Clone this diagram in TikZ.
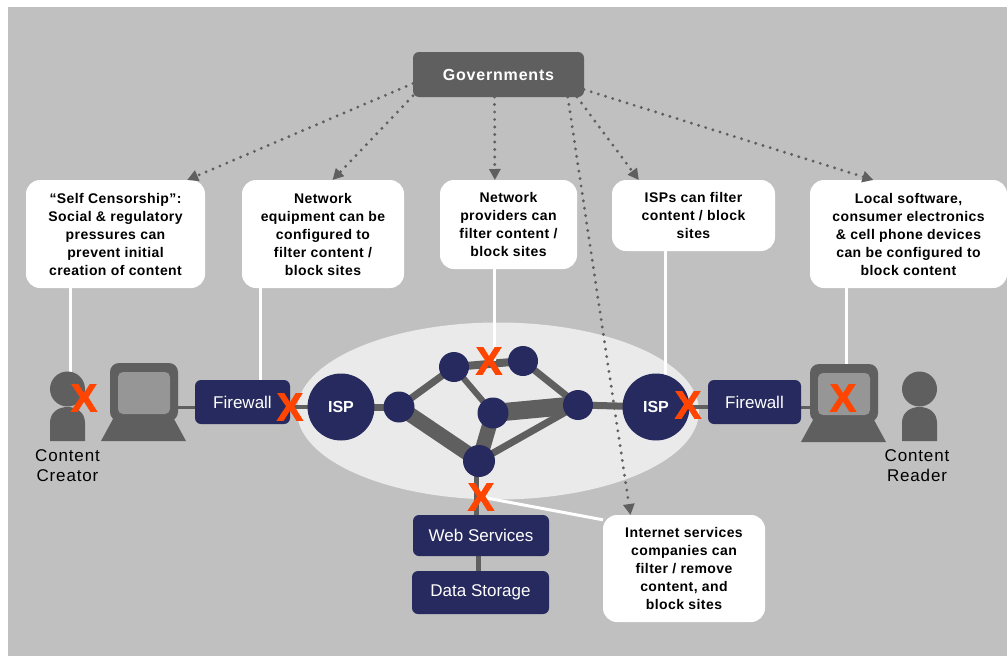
\documentclass[tikz,border=0pt]{standalone}
\usepackage{fontspec}
\setmainfont{Liberation Sans}
\usetikzlibrary{arrows.meta,backgrounds,shapes.geometric}
\definecolor{panel}{HTML}{C0C0C0}
\definecolor{cloudgray}{HTML}{EAEAEA}
\definecolor{navy}{HTML}{272A5E}
\definecolor{darkgray}{HTML}{5F5F5F}
\definecolor{screengray}{HTML}{969696}
\definecolor{crossred}{HTML}{FF4500}
\tikzset{
	govbox/.style={fill=darkgray,rounded corners=6pt,minimum width=171pt,minimum height=45pt,inner sep=0pt,outer sep=0pt,text=white,font=\fontsize{16}{18}\selectfont\bfseries\addfontfeature{LetterSpace=5}},
	callout/.style={fill=white,rounded corners=14pt,inner sep=0pt,outer sep=0pt,align=center,font=\fontsize{14}{18}\selectfont\bfseries\addfontfeature{LetterSpace=3}},
	navybox/.style={fill=navy,rounded corners=6pt,inner sep=0pt,outer sep=0pt,text=white,font=\fontsize{17}{18}\selectfont},
	router/.style={circle,fill=navy,inner sep=0pt,outer sep=0pt,minimum size=#1},
	ispnode/.style={circle,fill=navy,minimum size=67pt,inner sep=0pt,outer sep=0pt,text=white,font=\fontsize{16}{18}\selectfont\bfseries},
	crossmark/.style={inner sep=0pt,text=crossred,font=\fontsize{39}{39}\selectfont\bfseries\addfontfeature{FakeBold=2.5}},
	caption/.style={align=center,inner sep=0pt,font=\fontsize{17}{20}\selectfont\addfontfeature{LetterSpace=5}},
	link/.style={draw=darkgray,line width=#1,shorten >=-4pt,shorten <=-4pt},
	leader/.style={draw=white,line width=3pt},
	reach/.style={draw=darkgray,line width=3.2pt,line cap=round,dash pattern=on 0pt off 7.5pt,-{Triangle[length=11pt,width=11pt]}},
	person/.pic={
		\node[circle,fill=darkgray,minimum size=35pt,inner sep=0pt] (-head) at (0,-18) {};
		\fill[darkgray] (-17.5,34) -- (-17.5,16) .. controls (-17.5,5) and (-9,0) .. (0,0) .. controls (9,0) and (17.5,5) .. (17.5,16) -- (17.5,34) -- cycle;
	},
	computer/.pic={
		\fill[darkgray] (-31,27) -- (-43,49) -- (42,49) -- (30,27) -- cycle;
		\node[fill=darkgray,rounded corners=9pt,minimum width=68pt,minimum height=58pt,inner sep=0pt,outer sep=0pt] (-mon) at (0,0) {};
		\node[fill=screengray,rounded corners=5pt,minimum width=52pt,minimum height=42pt,inner sep=0pt] (-scr) at (0,1) {};
	},
}
\begin{document}
\begin{tikzpicture}[x=1pt,y=-1pt]
\useasboundingbox (0,0) rectangle (1007,656);
\node[govbox] (gov) at (498.5,74.5) {Governments};
\node[callout,minimum width=179pt,minimum height=108pt] (boxa) at (115.5,234) {“Self Censorship”:\\Social \& regulatory\\pressures can\\prevent initial\\creation of content};
\node[callout,minimum width=162pt,minimum height=108pt] (boxb) at (323,234) {Network\\equipment can be\\configured to\\filter content /\\block sites};
\node[callout,minimum width=137pt,minimum height=89pt] (boxc) at (508.5,224.5) {Network\\providers can\\filter content /\\block sites};
\node[callout,minimum width=163pt,minimum height=71pt] (boxd) at (693.5,215.5) {ISPs can filter\\content / block\\sites};
\node[callout,minimum width=197pt,minimum height=108pt] (boxe) at (908.5,234) {Local software,\\consumer electronics\\\& cell phone devices\\can be configured to\\block content};
\node[callout,minimum width=162pt,minimum height=107pt] (boxf) at (684,568.5) {Internet services\\companies can\\filter / remove\\content, and\\block sites};
\pic (creator) at (67.5,407) {person};
\pic (reader) at (919.5,407) {person};
\pic (pcl) at (144,392) {computer};
\pic (pcr) at (844,393) {computer};
\node[navybox,minimum width=95pt,minimum height=44pt] (fwl) at (242.5,402) {Firewall};
\node[navybox,minimum width=93pt,minimum height=44pt] (fwr) at (754.5,402) {Firewall};
\node[navybox,minimum width=136pt,minimum height=41pt] (web) at (481,535.5) {Web Services};
\node[navybox,minimum width=137pt,minimum height=43pt] (data) at (480.5,592.5) {Data Storage};
\node[ispnode] (ispl) at (341,407) {ISP};
\node[ispnode] (ispr) at (656,407) {ISP};
\node[router=31pt] (na) at (399,407) {};
\node[router=30pt] (nb) at (454,367) {};
\node[router=30pt] (nc) at (523,361) {};
\node[router=31pt] (nd) at (493,413) {};
\node[router=30pt] (ne) at (578,405) {};
\node[router=32pt] (nf) at (479,461) {};
\node[crossmark] (xa) at (84,398) {X};
\node[crossmark] (xb) at (290,407) {X};
\node[crossmark] (xc) at (489,361) {X};
\node[crossmark] (xd) at (688,405) {X};
\node[crossmark] (xe) at (843,398) {X};
\node[crossmark] (xf) at (481,497) {X};
\node[caption] (lblc) at (67.5,465.5) {Content\\Creator};
\node[caption] (lblr) at (917,465.5) {Content\\Reader};
\begin{scope}[on background layer]
\fill[panel] (8,7) rectangle (1007,656);
\node[ellipse,fill=cloudgray,minimum width=402pt,minimum height=177pt,inner sep=0pt] (net) at (498,411) {};
\draw[link=3pt] (pcl-mon.center |- ispl) -- (fwl.center |- ispl);
\draw[link=3.5pt] (fwl.center |- ispl) -- (ispl);
\draw[link=7pt] (ispl) -- (na);
\draw[link=7pt] (na) -- (nb);
\draw[link=15pt] (na) -- (nf);
\draw[link=8pt] (nb) -- (nc);
\draw[link=6pt] (nb) -- (nd);
\draw[link=7pt] (nc) -- (ne);
\draw[link=18pt] (nd) -- (ne);
\draw[link=15pt] (nd) -- (nf);
\draw[link=7pt] (nf) -- (ne);
\draw[link=7pt] (ne) -- (ispr);
\draw[link=3.5pt] (ispr) -- (fwr.center |- ispr);
\draw[link=3pt] (fwr.center |- ispr) -- (pcr-mon.center |- ispr);
\draw[link=5pt] ([xshift=-3pt]nf.center) -- ([xshift=-3pt]nf.center |- web.center);
\draw[link=5pt] ([xshift=-3pt]web.center) -- ([xshift=-3pt]web.center |- data.center);
\draw[leader] (boxa.230) -- (boxa.230 |- creator-head.center);
\draw[leader] (boxb.221) -- (boxb.221 |- fwl.north);
\draw[leader] (boxc.252) -- (boxc.252 |- xc.center);
\draw[leader] (boxd.232) -- (boxd.232 |- ispr.center);
\draw[leader] (boxe.221) -- (boxe.221 |- pcr-mon.center);
\draw[leader] (xf.center) -- (boxf.149);
\end{scope}
\draw[reach] (gov.186) -- (boxa.37);
\draw[reach] (gov.194) -- (boxb.80);
\draw[reach] (gov.-100) -- (boxc.107);
\draw[reach] (gov.-16) -- (boxd.147);
\draw[reach] (gov.-10) -- (boxe.123);
\draw[reach] (gov.-18) -- (boxf.135);
\end{tikzpicture}
\end{document}
